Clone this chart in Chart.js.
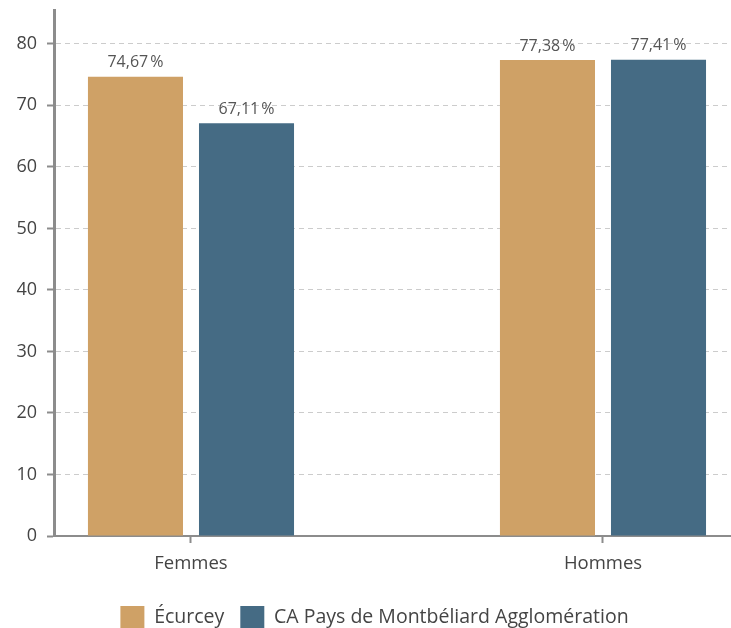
<!DOCTYPE html>
<html>
<head>
<meta charset="utf-8">
<script src="https://cdn.jsdelivr.net/npm/chart.js@4"></script>
<style>
  html, body { margin: 0; padding: 0; background: #fff; }
  #wrap { width: 731px; height: 628px; }
</style>
</head>
<body>
<div id="wrap"><canvas id="chart" width="731" height="628"></canvas></div>
<script>
// Chart data
const categories = ['Femmes', 'Hommes'];
const seriesNames = ['Écurcey', 'CA Pays de Montbéliard Agglomération'];
const ecurceyValues = [74.67, 77.38];
const caValues = [67.11, 77.41];
const yTickValues = [0, 10, 20, 30, 40, 50, 60, 70, 80];

const FONT = "'Open Sans', 'DejaVu Sans', sans-serif";
const COLORS = { orange: '#cfa166', blue: '#456b84', text: '#444', grid: '#cccccc', axis: '#8c8c8c' };

// index positions of the categories on the (linear) x axis
const toPoints = values => values.map((v, i) => ({ x: i, y: v }));

// draws the value labels above each bar
const valueLabels = {
    id: 'valueLabels',
    afterDatasetsDraw(chart) {
        const ctx = chart.ctx;
        ctx.save();
        ctx.font = '16px ' + FONT;
        ctx.fillStyle = '#555';
        ctx.textAlign = 'center';
        ctx.textBaseline = 'bottom';
        chart.data.datasets.forEach((ds, di) => {
            const meta = chart.getDatasetMeta(di);
            meta.data.forEach((bar, i) => {
                const txt = ds.data[i].y.toFixed(2).replace('.', ',') + '\u202F%';
                ctx.fillText(txt, bar.x, bar.y - 6);
            });
        });
        ctx.restore();
    }
};

// legend is a bit right of the canvas centre in the original
const legendShift = {
    id: 'legendShift',
    afterLayout(chart) {
        if (chart.legend) {
            chart.legend.left += 9;
            chart.legend.right += 9;
        }
    }
};

new Chart(document.getElementById('chart'), {
    type: 'bar',
    data: {
        datasets: [
            {
                label: seriesNames[0],
                data: toPoints(ecurceyValues),
                backgroundColor: COLORS.orange
            },
            {
                label: seriesNames[1],
                data: toPoints(caValues),
                backgroundColor: COLORS.blue
            }
        ]
    },
    options: {
        responsive: false,
        animation: false,
        categoryPercentage: 0.539,
        barPercentage: 0.856,
        layout: { padding: { top: 10, right: 0, left: 0, bottom: -10 } },
        scales: {
            x: {
                type: 'linear',
                min: -0.3325,
                max: 1.3107,
                offset: false,
                afterFit(scale) { scale.height = 54; },
                afterBuildTicks(scale) {
                    scale.ticks = categories.map((c, i) => ({ value: i }));
                },
                ticks: {
                    color: COLORS.text,
                    font: { family: FONT, size: 18.5 },
                    padding: 10,
                    callback: v => categories[v]
                },
                grid: {
                    offset: false,
                    drawOnChartArea: false,
                    drawTicks: true,
                    tickLength: 7,
                    tickWidth: 2,
                    tickColor: COLORS.axis
                },
                border: { display: true, color: COLORS.axis, width: 2 }
            },
            y: {
                min: 0,
                max: 85.5,
                afterFit(scale) {
                    scale.width = 54;
                    scale.paddingTop = 0;
                    scale.paddingBottom = 0;
                },
                afterBuildTicks(scale) {
                    scale.ticks = yTickValues.map(v => ({ value: v }));
                },
                ticks: {
                    color: COLORS.text,
                    font: { family: FONT, size: 18 },
                    padding: 10
                },
                grid: {
                    color: COLORS.grid,
                    lineWidth: 1,
                    drawTicks: true,
                    tickLength: 7,
                    tickWidth: 2,
                    tickColor: COLORS.axis
                },
                border: { display: true, color: COLORS.axis, width: 3, dash: [5, 4] }
            }
        },
        plugins: {
            legend: {
                position: 'bottom',
                labels: {
                    color: COLORS.text,
                    boxWidth: 24,
                    boxHeight: 22,
                    padding: 16,
                    font: { family: FONT, size: 19.5 }
                }
            },
            tooltip: { enabled: false }
        }
    },
    plugins: [valueLabels, legendShift]
});
</script>
</body>
</html>
